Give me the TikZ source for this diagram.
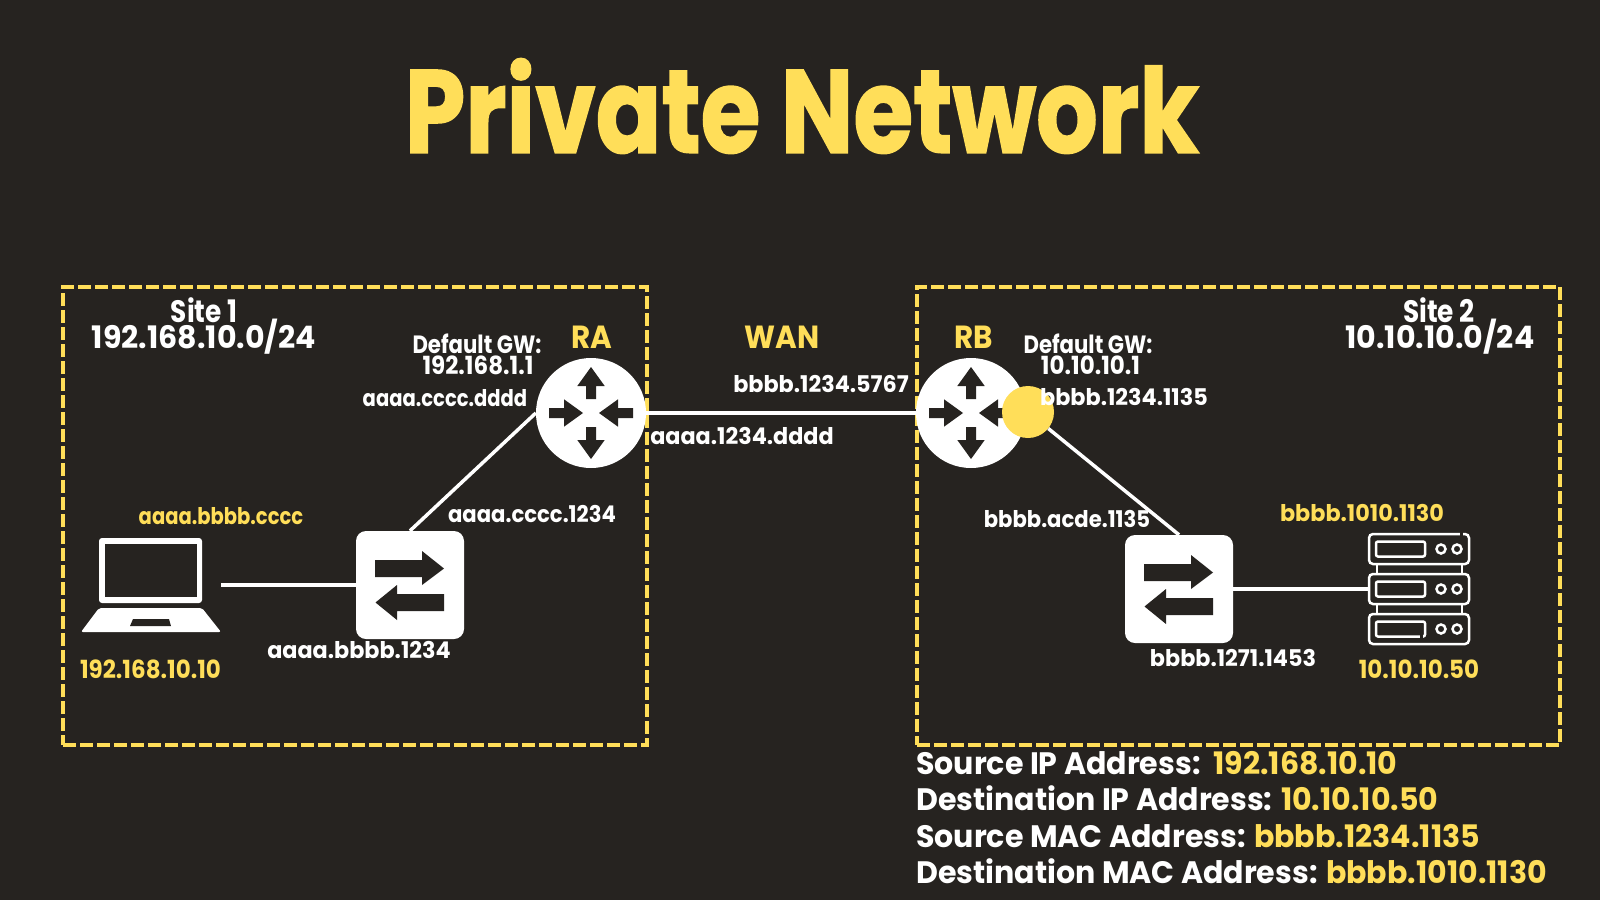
\documentclass[tikz,border=0pt]{standalone}
\usepackage{fontspec}
\setmainfont{Poppins}[FakeStretch=0.85]
\newfontfamily\midfont{Poppins}[FakeStretch=0.92]
\newfontfamily\widefont{Poppins}[FakeStretch=0.97]
\newfontfamily\titlefont{Poppins}[FakeStretch=0.82,FakeBold=1.2]
\usetikzlibrary{positioning}
\definecolor{bgdark}{HTML}{262320}
\definecolor{signyellow}{HTML}{FFDE59}
\newcommand{\hl}[1]{\textcolor{signyellow}{#1}}

\begin{document}
\begin{tikzpicture}[
    x=1pt, y=-1pt,
    sitebox/.style={draw=signyellow, line width=4pt, dash pattern=on 13pt off 4pt},
    router/.style={circle, fill=white, minimum size=110pt, inner sep=0pt},
    switchbox/.style={rectangle, rounded corners=10pt, fill=white, minimum width=108pt, minimum height=108pt, inner sep=0pt},
    hostspot/.style={rectangle, inner sep=0pt},
    link/.style={draw=white, line width=3.5pt},
    lbl/.style={text=white, inner sep=0pt, font=\fontsize{23}{23}\selectfont\bfseries},
    ylbl/.style={lbl, text=signyellow},
    midlbl/.style={lbl, font=\midfont\fontsize{23}{23}\selectfont\bfseries},
    widelbl/.style={lbl, font=\widefont\fontsize{23}{23}\selectfont\bfseries},
    biglbl/.style={lbl, font=\fontsize{31}{31}\selectfont\bfseries},
    netlbl/.style={lbl, font=\widefont\fontsize{31}{31}\selectfont\bfseries},
    gwlbl/.style={lbl, font=\fontsize{25}{25}\selectfont\bfseries},
    iplbl/.style={lbl, text=signyellow, font=\midfont\fontsize{25}{25}\selectfont\bfseries},
    namelbl/.style={lbl, text=signyellow, font=\midfont\fontsize{32}{32}\selectfont\bfseries},
    routerarrows/.pic={
        \foreach \a in {0,180}
            \fill[bgdark, rotate=\a] (-5,-14) -- (-5,-27) -- (-13.7,-27) -- (0,-46) -- (13.7,-27) -- (5,-27) -- (5,-14) -- cycle;
        \foreach \a in {90,270}
            \fill[bgdark, rotate=\a] (-5,-42) -- (-5,-27) -- (-13.7,-27) -- (0,-8) -- (13.7,-27) -- (5,-27) -- (5,-42) -- cycle;
    },
    switcharrows/.pic={
        \fill[bgdark] (-35,-25) -- (12,-25) -- (12,-34) -- (34,-16.5) -- (12,0) -- (12,-8) -- (-35,-8) -- cycle;
        \fill[bgdark] (34,9) -- (-13,9) -- (-13,0) -- (-34.5,17.5) -- (-13,35) -- (-13,26) -- (34,26) -- cycle;
    },
    laptopicon/.pic={
        \fill[white, rounded corners=3pt] (-52,-47) rectangle (51,18);
        \fill[bgdark] (-46,-41) rectangle (46,12);
        \fill[white, rounded corners=2pt] (-52,23) -- (51,23) -- (70,47) -- (-70,47) -- cycle;
        \fill[bgdark] (-18,34) -- (18,34) -- (20,41) -- (-21,41) -- cycle;
    },
    servericon/.pic={
        \foreach \dy in {-40,0,40} {
            \draw[white, line width=2.5pt, rounded corners=4pt] (-50,\dy-15) rectangle (50,\dy+15);
            \draw[white, line width=2.5pt, rounded corners=2pt] (-43,\dy-7.5) rectangle (6,\dy+7.5);
            \draw[white, line width=2.5pt] (22,\dy) circle (4.5);
            \draw[white, line width=2.5pt] (38,\dy) circle (4.5);
        }
        \foreach \sx in {-42,43} {
            \draw[white, line width=2.5pt] (\sx,-25) -- (\sx,-15);
            \draw[white, line width=2.5pt] (\sx,15) -- (\sx,25);
        }
        \fill[bgdark] (41,-57) rectangle (44,-53);
        \fill[bgdark] (1,46) rectangle (3.5,49);
    }
]
\fill[bgdark] (0,0) rectangle (1600,900);
\useasboundingbox (0,0) rectangle (1600,900);

%% ── Title ────────────────────────────────────────────────────────────────────
\node[text=signyellow, inner sep=0pt, font=\titlefont\fontsize{118}{118}\selectfont\bfseries] (title) at (802,106) {Private Network};

%% ── Site boxes ───────────────────────────────────────────────────────────────
\node[sitebox, minimum width=584pt, minimum height=458pt, inner sep=0pt] (site1) at (355,516) {};
\node[sitebox, minimum width=643pt, minimum height=458pt, inner sep=0pt] (site2) at (1238.5,516) {};

%% ── Devices ──────────────────────────────────────────────────────────────────
\node[router] (ra) at (591,413) {};
\node[router] (rb) at (971,413) {};
\node[switchbox] (sw1) at (410,585) {};
\node[switchbox] (sw2) at (1179,589) {};
\node[hostspot, minimum width=140pt, minimum height=94pt] (pc) at (151,585) {};
\node[hostspot, minimum width=102pt, minimum height=111pt] (srv) at (1419,589) {};

\pic at (ra) {routerarrows};
\pic at (rb) {routerarrows};
\pic at (sw1) {switcharrows};
\pic at (sw2) {switcharrows};
\pic at (pc) {laptopicon};
\pic at (srv) {servericon};
\node[circle, fill=signyellow, minimum size=52pt, inner sep=0pt] (dot) at (1028,412) {};

%% ── Links ────────────────────────────────────────────────────────────────────
\draw[link] (pc.east) -- (sw1.west);
\draw[link] (sw1.north) -- (ra.west);
\draw[link, line width=4.5pt] (ra.east) -- (rb.west);
\draw[link] (dot) -- (sw2.north);
\draw[link] (sw2.east) -- (srv.west);

%% ── Site 1 labels ────────────────────────────────────────────────────────────
\node[biglbl] (site1name) at (204,310) {Site 1};
\node[netlbl] (site1net) at (204,337) {192.168.10.0/24};
\node[gwlbl] (gwa) at (477,344) {Default GW:};
\node[gwlbl, font=\midfont\fontsize{25}{25}\selectfont\bfseries] (gwaip) at (478,365) {192.168.1.1};
\node[namelbl] (ralbl) at (592,337) {RA};
\node[lbl] (macra) at (445,398) {aaaa.cccc.dddd};
\node[midlbl] (macrb) at (532,514) {aaaa.cccc.1234};
\node[ylbl] (macpc) at (221,516) {aaaa.bbbb.cccc};
\node[iplbl] (ippc) at (150.5,669) {192.168.10.10};
\node[widelbl] (macsw1) at (359,650) {aaaa.bbbb.1234};

%% ── WAN labels ───────────────────────────────────────────────────────────────
\node[namelbl] (wan) at (782,337) {WAN};
\node[widelbl] (macwanb) at (821,384) {bbbb.1234.5767};
\node[widelbl] (macwana) at (742,436) {aaaa.1234.dddd};

%% ── Site 2 labels ────────────────────────────────────────────────────────────
\node[namelbl] (rblbl) at (974,337) {RB};
\node[gwlbl] (gwb) at (1088,344) {Default GW:};
\node[gwlbl, font=\midfont\fontsize{25}{25}\selectfont\bfseries] (gwbip) at (1090.5,365) {10.10.10.1};
\node[widelbl] (macrbin) at (1124,397) {bbbb.1234.1135};
\node[midlbl] (macrbsw) at (1067,519) {bbbb.acde.1135};
\node[ylbl, font=\widefont\fontsize{23}{23}\selectfont\bfseries] (macsrv) at (1362,513) {bbbb.1010.1130};
\node[widelbl] (macsw2) at (1233,658) {bbbb.1271.1453};
\node[iplbl] (ipsrv) at (1419,669) {10.10.10.50};
\node[biglbl] (site2name) at (1439,310) {Site 2};
\node[netlbl] (site2net) at (1440,337) {10.10.10.0/24};

%% ── Frame summary ────────────────────────────────────────────────────────────
\node[lbl, anchor=north west, align=left, font=\widefont\fontsize{31}{36.5}\selectfont\bfseries] (summary) at (916,751) {%
    Source IP Address:\ \ \hl{192.168.10.10}\\
    Destination IP Address: \hl{10.10.10.50}\\
    Source MAC Address: \hl{bbbb.1234.1135}\\
    Destination MAC Address: \hl{bbbb.1010.1130}};

\end{tikzpicture}
\end{document}
